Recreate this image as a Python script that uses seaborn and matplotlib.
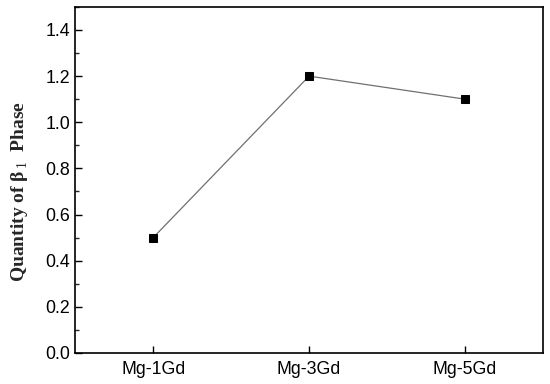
import pandas as pd
import matplotlib.pyplot as plt
import seaborn as sns
from matplotlib.ticker import MultipleLocator

alloys = ['Mg-1Gd', 'Mg-3Gd', 'Mg-5Gd']
quantity = [0.50, 1.20, 1.10]

df = pd.DataFrame({'Alloy': alloys, 'Quantity': quantity})
df['pos'] = range(len(df))

sns.set_style('ticks')
plt.rcParams['font.family'] = ['Liberation Sans', 'DejaVu Sans']
plt.rcParams['mathtext.fontset'] = 'custom'
plt.rcParams['mathtext.rm'] = 'Liberation Serif'
plt.rcParams['mathtext.bf'] = 'Liberation Serif:bold'

fig, ax = plt.subplots(figsize=(5.5, 3.84), dpi=100)
sns.lineplot(x='pos', y='Quantity', data=df, ax=ax, color='#707070', linewidth=0.9,
             marker='s', markersize=5.2, markerfacecolor='black', markeredgecolor='black')

ax.set_xlim(-0.5, 2.5)
ax.set_ylim(0, 1.5)
ax.set_xticks(df['pos'])
ax.set_xticklabels(alloys, fontsize=13.5)
ax.yaxis.set_major_locator(MultipleLocator(0.2))
ax.yaxis.set_minor_locator(MultipleLocator(0.1))
ax.tick_params(direction='in', length=5, width=1, labelsize=12.8, colors='black')
ax.tick_params(axis='y', which='minor', direction='in', length=3, width=1)
ax.tick_params(axis='x', pad=6)
for s in ax.spines.values():
    s.set_linewidth(1.2)
    s.set_color('black')

ax.set_xlabel('')
ax.set_ylabel('Quantity of β$_{\\mathrm{\\,1}}$  Phase', family='Liberation Serif',
              fontweight='bold', fontsize=14)
ax.yaxis.set_label_coords(-0.098, 0.465)

fig.subplots_adjust(left=0.137, right=0.987, top=0.982, bottom=0.081)
fig.savefig('out.png')
